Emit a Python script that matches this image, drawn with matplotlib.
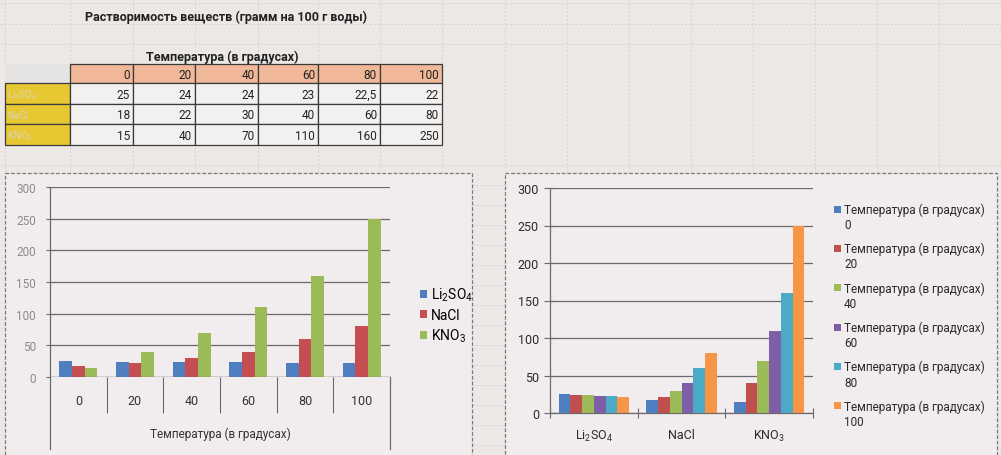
import numpy as np
import matplotlib
matplotlib.use("Agg")
import matplotlib.pyplot as plt
from matplotlib.patches import Rectangle

plt.rcParams['font.family'] = ['Roboto', 'DejaVu Sans']
plt.rcParams['mathtext.default'] = 'regular'

# ---------------- data ----------------
title = "Растворимость веществ (грамм на 100 г воды)"
temp_label = "Температура (в градусах)"
temperatures = [0, 20, 40, 60, 80, 100]
substances = ["Li$_2$SO$_4$", "NaCl", "KNO$_3$"]
li2so4 = [25, 24, 24, 23, 22.5, 22]
nacl = [18, 22, 30, 40, 60, 80]
kno3 = [15, 40, 70, 110, 160, 250]
table_text = {
    "Li$_2$SO$_4$": ["25", "24", "24", "23", "22,5", "22"],
    "NaCl": ["18", "22", "30", "40", "60", "80"],
    "KNO$_3$": ["15", "40", "70", "110", "160", "250"],
}
yticks = [0, 50, 100, 150, 200, 250, 300]

# ---------------- styles ----------------
sub_colors = ['#4f7fc0', '#c44e52', '#9bbb59']
temp_colors = ['#4f7fc0', '#c0504d', '#9bbb59', '#7e5ea6', '#4babc6', '#f79646']
W, H = 1001, 456
fig = plt.figure(figsize=(W / 100, H / 100), dpi=100, facecolor='#ebe8e6')


def rect(x0, y0, x1, y1):
    return [x0 / W, 1 - y1 / H, (x1 - x0) / W, (y1 - y0) / H]


# background canvas (pixel coordinates)
bg = fig.add_axes([0, 0, 1, 1], zorder=0)
bg.set_xlim(0, W)
bg.set_ylim(H, 0)
bg.axis('off')

# faint spreadsheet grid
col_edges = [5, 70, 133, 195, 258, 318, 380, 442]
extra_cols = [505, 567, 629, 691, 753, 815, 877, 939]
for x in col_edges + extra_cols:
    bg.plot([x, x], [0, 174], color='#d6d2d2', lw=0.7, ls=(0, (2, 2)), zorder=1)
for y in [4, 25, 45, 166]:
    bg.plot([0, W], [y, y], color='#d6d2d2', lw=0.7, ls=(0, (2, 2)), zorder=1)
for y in np.arange(186, 456, 20):
    bg.plot([472, 505], [y, y], color='#d2d0d6', lw=0.7, ls=(0, (2, 2)), zorder=1)

# chart panels
for (x0, x1) in [(5, 472), (505, 997)]:
    bg.add_patch(Rectangle((x0, 174), x1 - x0, H - 174 + 5, facecolor='#f1ecee',
                           edgecolor='#7a7a7a', lw=0.9, ls=(0, (3, 1.5)), zorder=2))

# table
row_edges = [65, 84, 105, 125, 146]
bg.text(85, 17, title, fontsize=9, fontweight='bold', ha='left', va='center', color='#222')
bg.text(222, 57, temp_label, fontsize=9, fontweight='bold', ha='center', va='center', color='#222')
# header row
bg.add_patch(Rectangle((col_edges[0], row_edges[0]), col_edges[1] - col_edges[0],
                       row_edges[1] - row_edges[0], facecolor='#e6e3e3', edgecolor='none', zorder=3))
for j, t in enumerate(temperatures):
    x0, x1 = col_edges[j + 1], col_edges[j + 2]
    bg.add_patch(Rectangle((x0, row_edges[0]), x1 - x0, row_edges[1] - row_edges[0],
                           facecolor='#f0b898', edgecolor='#3a3a3a', lw=0.9, zorder=3))
    bg.text(x1 - 3, (row_edges[0] + row_edges[1]) / 2 + 1, str(t), fontsize=8.5,
            ha='right', va='center', color='#222', zorder=4)
for i, name in enumerate(substances):
    y0, y1 = row_edges[i + 1], row_edges[i + 2]
    bg.add_patch(Rectangle((col_edges[0], y0), col_edges[1] - col_edges[0], y1 - y0,
                           facecolor='#e8c832', edgecolor='#3a3a3a', lw=0.9, zorder=3))
    bg.text(col_edges[0] + 2, (y0 + y1) / 2 + 1, name, fontsize=7, ha='left', va='center',
            color='#d9d2bf', zorder=4)
    for j, v in enumerate(table_text[name]):
        x0, x1 = col_edges[j + 1], col_edges[j + 2]
        bg.add_patch(Rectangle((x0, y0), x1 - x0, y1 - y0, facecolor='#f3f1ef',
                               edgecolor='#3a3a3a', lw=0.9, zorder=3))
        bg.text(x1 - 3, (y0 + y1) / 2 + 1, v, fontsize=8.5, ha='right', va='center',
                color='#222', zorder=4)

# ---------------- left chart ----------------
ax1 = fig.add_axes(rect(50, 188, 390, 378), zorder=2)
ax1.set_facecolor('none')
x = np.arange(len(temperatures))
w = 1 / 4.5
series = [li2so4, nacl, kno3]
bars = []
for i, (vals, c) in enumerate(zip(series, sub_colors)):
    b = ax1.bar(x + (i - 1) * w, vals, width=w, color=c, zorder=3)
    bars.append(b)
ax1.set_xlim(-0.5, len(temperatures) - 0.5)
ax1.set_ylim(0, 300)
ax1.set_yticks(yticks)
ax1.yaxis.grid(True, color='#6a6a6a', lw=0.9)
ax1.set_axisbelow(True)
for s in ['top', 'right', 'bottom']:
    ax1.spines[s].set_visible(False)
ax1.spines['left'].set_visible(False)
ax1.tick_params(axis='y', length=3, width=0.8, color='#6a6a6a', labelsize=8.5,
                labelcolor='#8c8c8c', pad=7)
ax1.set_xticks(x)
ax1.set_xticklabels([str(t) for t in temperatures])
ax1.tick_params(axis='x', length=0, labelsize=9, labelcolor='#333', pad=12)
ax1.set_xticks(np.arange(0.5, len(temperatures) - 1, 1), minor=True)
ax1.tick_params(axis='x', which='minor', length=26, width=0.8, color='#6a6a6a', direction='out')
ax1.axhline(0, color='#6a6a6a', lw=0.9, zorder=4)
ax1.plot([0, 0], [-0.379, 1], transform=ax1.transAxes, color='#6a6a6a', lw=0.9, clip_on=False)
ax1.plot([1, 1], [-0.379, 0], transform=ax1.transAxes, color='#6a6a6a', lw=0.9, clip_on=False)
ax1.set_xlabel(temp_label, fontsize=8.5, color='#333', labelpad=6)
ax1.legend(bars, substances, loc='center left', bbox_to_anchor=(407 / W, 1 - 316 / H),
           bbox_transform=fig.transFigure, frameon=False, fontsize=10,
           handlelength=0.55, handleheight=0.55, handletextpad=0.3, labelspacing=0.35)

# ---------------- right chart ----------------
ax2 = fig.add_axes(rect(550, 189, 813, 414), zorder=2)
ax2.set_facecolor('none')
xs = np.arange(len(substances))
w2 = 1 / 7.5
by_temp = [[li2so4[j], nacl[j], kno3[j]] for j in range(len(temperatures))]
for j, (vals, c) in enumerate(zip(by_temp, temp_colors)):
    ax2.bar(xs + (j - 2.5) * w2, vals, width=w2, color=c, zorder=3)
ax2.set_xlim(-0.5, len(substances) - 0.5)
ax2.set_ylim(0, 300)
ax2.set_yticks(yticks)
ax2.yaxis.grid(True, color='#6a6a6a', lw=0.9)
ax2.set_axisbelow(True)
for s in ['top', 'right']:
    ax2.spines[s].set_visible(False)
for s in ['left', 'bottom']:
    ax2.spines[s].set_color('#6a6a6a')
    ax2.spines[s].set_linewidth(0.9)
ax2.tick_params(axis='y', length=8, direction='inout', width=0.8, color='#6a6a6a',
                labelsize=9, labelcolor='#2a2a2a', pad=4)
ax2.set_xticks(xs)
ax2.set_xticklabels(substances)
ax2.tick_params(axis='x', length=0, labelsize=9, labelcolor='#2a2a2a', pad=11)
ax2.set_xticks(np.arange(-0.5, len(substances), 1), minor=True)
ax2.tick_params(axis='x', which='minor', length=7, direction='inout', width=0.8, color='#6a6a6a')

# right legend
for j, (t, c) in enumerate(zip(temperatures, temp_colors)):
    y = 210 + 39.4 * j
    bg.add_patch(Rectangle((834, y - 3.5), 7, 7, facecolor=c, edgecolor='none', zorder=5))
    bg.text(844, y, temp_label, fontsize=8.5, ha='left', va='center', color='#2a2a2a', zorder=5)
    bg.text(844, y + 15.5, str(t), fontsize=8.5, ha='left', va='center', color='#2a2a2a', zorder=5)

fig.savefig('out.png', dpi=100, facecolor=fig.get_facecolor())
